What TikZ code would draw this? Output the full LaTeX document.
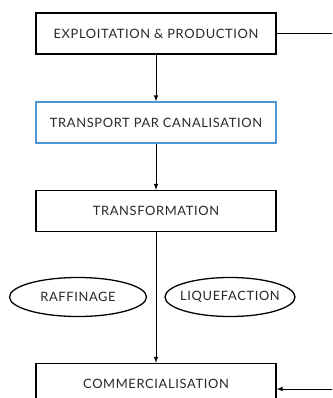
\documentclass[tikz,border=0pt]{standalone}
\usepackage{fontspec}
\setmainfont{Lato}
\newfontfamily\etichetta[LetterSpace=5]{Lato}
\usepackage{xcolor}
\usetikzlibrary{shapes.geometric}
\definecolor{bordoblu}{RGB}{80,150,210}
\definecolor{testo}{RGB}{40,40,40}
\tikzset{
    fase/.style={rectangle, draw, line width=1.1pt, minimum width=7.2cm, minimum height=1.23cm, font=\etichetta\fontsize{11}{13}\selectfont, text=testo},
    processo/.style={ellipse, draw, line width=1.1pt, minimum height=1.17cm, inner ysep=0pt, inner xsep=-8pt, font=\etichetta\fontsize{11}{13}\selectfont, text=testo},
    freccia/.style={-latex, line width=0.8pt}
}
\begin{document}
\begin{tikzpicture}[x=0.03cm, y=-0.03cm]
            \useasboundingbox (0,0) rectangle (332,398);
            \clip (0,0) rectangle (332,398);
            % Nodi
            \node[fase] (esplorazione) at (156,33.5) {EXPLOITATION \& PRODUCTION};
            \node[fase, draw=bordoblu] (trasporto) at (156,122.5) {TRANSPORT PAR CANALISATION};
            \node[fase] (trasformazione) at (156,211) {TRANSFORMATION};
            \node[processo, minimum width=4.11cm] (raffinazione) at (78,297) {RAFFINAGE};
            \node[processo, minimum width=3.9cm] (liquefazione) at (230,297) {LIQUEFACTION};
            \node[fase] (commercio) at (156,384) {COMMERCIALISATION};
            \coordinate (destra1) at (345,33.5);
            \coordinate (destra2) at (345,389);

            % Archi
            \draw[freccia] (esplorazione) -- (trasporto);
            \draw[freccia] (trasporto) -- (trasformazione);
            \draw[freccia] (trasformazione) -- (commercio);
            \draw[freccia] (esplorazione.east) -- (destra1) -- (destra2) -- (destra2 -| commercio.east);
        \end{tikzpicture}
\end{document}
